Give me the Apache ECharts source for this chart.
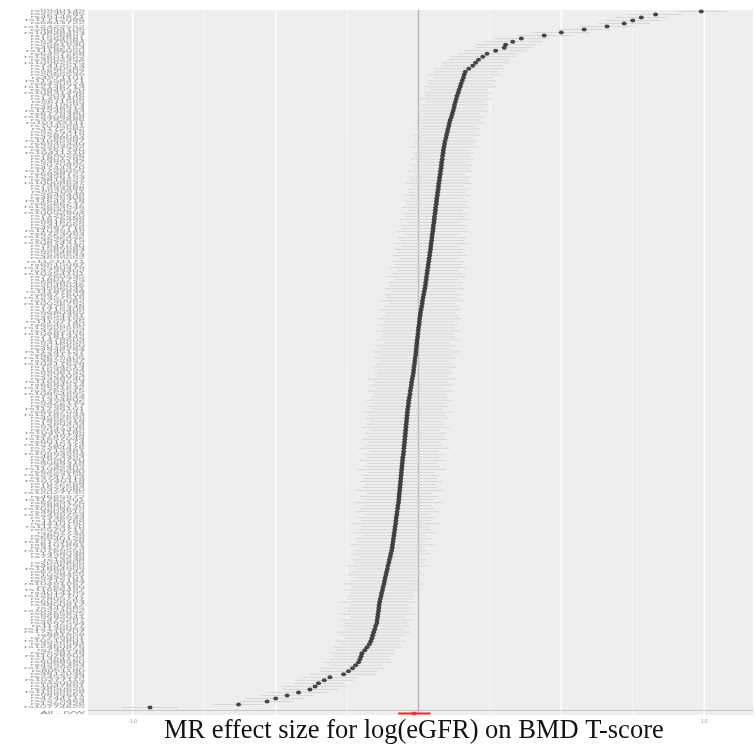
<!DOCTYPE html>
<html>
<head>
<meta charset="utf-8">
<script src="https://cdn.jsdelivr.net/npm/echarts@6/dist/echarts.min.js"></script>
<style>html,body{margin:0;padding:0;background:#fff}#chart{width:756px;height:751px}</style>
</head>
<body>
<div id="chart"></div>
<script>
// single SNP forest plot, SNPs ordered by effect (bottom = smallest)
const snps = `rs10774625 rs1260326 rs2279463 rs4744712 rs9895661 rs11959928 rs3850625 rs1047891 rs6420094 rs10277115
rs2453533 rs3812036 rs8091180 rs13329952 rs4293393 rs6088580 rs1394125 rs11078903 rs2928148 rs734553
rs12460876 rs3925584 rs10513801 rs7759001 rs881858 rs17216707 rs12136063 rs1145077 rs4667594 rs2472297
rs9682041 rs6465825 rs10224002 rs347685 rs3800817 rs6026593 rs7805747 rs12917707 rs4014195 rs11666497
rs163160 rs10491967 rs2712184 rs9332701 rs1028455 rs6795744 rs11864909 rs4506565 rs2049805 rs13538
rs7422339 rs1458038 rs10769559 rs3127573 rs8101881 rs12124078 rs9940128 rs2802729 rs267734 rs6570719
rs11123170 rs4410790 rs1106766 rs7336933 rs12499753 rs3803915 rs10208649 rs2880790 rs6659176 rs11762201
rs4665972 rs12027135 rs9374080 rs1825584 rs7072268 rs10740118 rs3741414 rs12563156 rs6459680 rs11082304
rs2732469 rs8068318 rs1990760 rs4873393 rs10993994 rs2712381 rs7284476 rs12740374 rs6012174 rs11657044
rs3749748 rs10491189 rs2043449 rs9357506 rs1260333 rs7896518 rs4592699 rs12185233 rs6557041 rs11736101
rs2298217 rs9472135 rs1394802 rs7212944 rs10854995 rs3762515 rs12921632 rs6684514 rs11603023 rs4338740
rs2921053 rs9908132 rs1533094 rs7554213 rs10417628 rs3822857 rs12679405 rs6431731 rs11245127 rs4848284
rs2075650 rs9318059 rs1478603 rs7181342 rs10881456 rs3765502 rs12509595 rs6545180 rs11107745 rs4954196
rs2254331 rs9680365 rs1715409 rs7475348 rs10026792 rs3750082 rs12357919 rs6677604 rs11187838 rs4596031
rs2049046 rs9858542 rs1801725 rs7760535 rs10254101 rs3733402 rs12580479 rs6915087 rs11211171 rs4699052
rs2535633 rs9994887 rs1589983 rs7941030 rs10874312 rs3925075 rs12252422 rs6723093 rs11039149 rs4987716
rs2315065 rs9816226 rs1676486 rs7129220 rs10052804 rs3800272 rs12653946 rs6566237 rs11643718 rs4829306
rs2642438 rs9520911 rs1933488 rs7395662 rs10008637 rs3813227 rs12356193 rs6838727 rs11726095 rs4744370
rs2070895 rs9399137 rs1801282 rs7690296 rs10411210 rs3761740 rs12203592 rs6945340 rs11065987 rs4788084
rs2287019 rs9275319 rs1172982 rs7045981 rs10133111 rs3782886 rs12408468 rs6779380 rs11249433 rs4846914
rs2519093 rs9611565 rs1497406 rs7903146 rs10831496 rs3849570 rs12146713 rs6420524 rs11558471 rs4971101
rs2065539 rs9825307 rs1260582 rs7412513 rs10962525 rs3902354 rs12601652 rs6497268 rs11186050 rs4962153
rs2581930 rs9379084 rs1564981 rs7556897 rs10838493 rs3094109 rs12422552 rs6843722 rs11712086 rs4914871
rs2239785 rs9940149`.trim().split(/\s+/);

const beta = [
  -0.940, -0.630, -0.530, -0.500, -0.460, -0.420, -0.380, -0.362, -0.350, -0.330, -0.310, -0.262, -0.245, -0.231, -0.220, -0.210, -0.205, -0.201, -0.198, -0.188, -0.180,
  -0.172, -0.167, -0.163, -0.160, -0.157, -0.153, -0.150, -0.146, -0.145, -0.143, -0.142, -0.140, -0.139, -0.138,
  -0.136, -0.134, -0.131, -0.129, -0.126, -0.124, -0.121, -0.119, -0.117, -0.114, -0.112, -0.109, -0.107, -0.104, -0.102, -0.099, -0.097, -0.094,
  -0.092, -0.091, -0.089, -0.088, -0.086, -0.085, -0.083, -0.082, -0.080, -0.079, -0.078, -0.076, -0.075, -0.073, -0.072, -0.070,
  -0.069, -0.068, -0.067, -0.066, -0.065, -0.064, -0.063, -0.062, -0.061, -0.060, -0.059, -0.058, -0.057, -0.056, -0.055, -0.053, -0.052,
  -0.051, -0.050, -0.049, -0.048, -0.047, -0.046, -0.045, -0.044, -0.043, -0.042, -0.041, -0.040, -0.039, -0.038, -0.036, -0.035,
  -0.034, -0.032, -0.030, -0.029, -0.027, -0.025, -0.024, -0.022, -0.020, -0.018,
  -0.017, -0.016, -0.014, -0.013, -0.012, -0.010, -0.009, -0.008, -0.007, -0.006, -0.005,
  -0.003, -0.002, -0.001, 0.000, 0.002, 0.003, 0.004, 0.006, 0.007,
  0.009, 0.011, 0.013, 0.014, 0.016, 0.018, 0.020, 0.022, 0.024,
  0.025, 0.027, 0.028, 0.030, 0.031, 0.033, 0.034, 0.036, 0.037, 0.039, 0.040, 0.042,
  0.043, 0.044, 0.046, 0.047, 0.048, 0.050, 0.051, 0.052, 0.054, 0.055, 0.056, 0.058, 0.059, 0.060, 0.062, 0.063,
  0.064, 0.066, 0.067, 0.069, 0.070, 0.071, 0.073, 0.074, 0.076, 0.077, 0.079, 0.080, 0.081, 0.083, 0.084, 0.086, 0.087,
  0.089, 0.091, 0.093, 0.096, 0.098, 0.101, 0.103, 0.106, 0.108, 0.111, 0.115,
  0.118, 0.121, 0.124, 0.126, 0.129, 0.132,
  0.135, 0.139, 0.142, 0.146,
  0.149, 0.153, 0.157, 0.160, 0.164, 0.176,
  0.190, 0.200, 0.210, 0.225, 0.240, 0.270, 0.300, 0.305, 0.330, 0.360, 0.440, 0.500, 0.580, 0.660, 0.720, 0.750, 0.780, 0.830, 0.990
];

const se = [
  0.050, 0.045, 0.048, 0.052, 0.047, 0.055, 0.050, 0.058, 0.046, 0.053, 0.049, 0.060, 0.051, 0.056, 0.047, 0.062, 0.054, 0.050, 0.058, 0.052, 0.061,
  0.055, 0.063, 0.049, 0.058, 0.066, 0.052, 0.060, 0.057, 0.064, 0.050, 0.068, 0.056, 0.061, 0.053, 0.070, 0.059, 0.062, 0.055, 0.067, 0.058,
  0.072, 0.060, 0.054, 0.069, 0.063, 0.058, 0.074, 0.061, 0.066, 0.056, 0.071, 0.064, 0.059, 0.076, 0.062, 0.068, 0.057, 0.073, 0.065, 0.060,
  0.078, 0.063, 0.069, 0.058, 0.075, 0.066, 0.061, 0.080, 0.064, 0.070, 0.059, 0.077, 0.067, 0.062, 0.074, 0.065, 0.071, 0.060, 0.079, 0.068,
  0.063, 0.076, 0.066, 0.072, 0.061, 0.081, 0.069, 0.064, 0.075, 0.067, 0.073, 0.062, 0.078, 0.070, 0.065, 0.074, 0.068, 0.080, 0.063, 0.071,
  0.066, 0.077, 0.069, 0.064, 0.075, 0.061, 0.072, 0.067, 0.079, 0.063, 0.070, 0.065, 0.076, 0.068, 0.062, 0.073, 0.066, 0.078, 0.064, 0.071,
  0.060, 0.074, 0.067, 0.063, 0.077, 0.065, 0.070, 0.061, 0.075, 0.068, 0.062, 0.072, 0.066, 0.059, 0.074, 0.064, 0.069, 0.058, 0.071, 0.063,
  0.067, 0.057, 0.070, 0.062, 0.055, 0.068, 0.060, 0.064, 0.053, 0.066, 0.058, 0.062, 0.052, 0.065, 0.057, 0.061, 0.050, 0.063, 0.055, 0.059,
  0.049, 0.062, 0.054, 0.058, 0.048, 0.061, 0.053, 0.057, 0.047, 0.060, 0.052, 0.056, 0.046, 0.059, 0.051, 0.055, 0.045, 0.058, 0.050, 0.054,
  0.047, 0.057, 0.050, 0.054, 0.046, 0.059, 0.052, 0.056, 0.048, 0.061, 0.053, 0.057, 0.049, 0.062, 0.054, 0.058, 0.050, 0.063, 0.055, 0.059,
  0.051, 0.064, 0.056, 0.060, 0.052, 0.065, 0.057, 0.061, 0.053, 0.066, 0.058, 0.062, 0.054, 0.060, 0.056, 0.058, 0.052, 0.055, 0.050, 0.054,
  0.052, 0.050, 0.048, 0.051, 0.047, 0.049, 0.046, 0.048, 0.045, 0.050, 0.046
];

// combined estimate row (red)
const allLabel = 'All - IVW';
const allBeta = -0.015;
const allSe = 0.029;

const xMin = -1.157, xMax = 1.171;
const majorGrid = [-1, -0.5, 0.5, 1];
const minorGrid = [-0.75, -0.25, 0.25, 0.75];
const xLabelTicks = [-1, 1];
const xTitle = 'MR effect size for log(eGFR) on BMD T-score';

const yCats = [allLabel, ''].concat(snps);

const chart = echarts.init(document.getElementById('chart'));

function vline(color, width, dash) {
  return function (params, api) {
    const cs = params.coordSys;
    const x = api.coord([api.value(0), 0])[0];
    return {type: 'line', shape: {x1: x, y1: cs.y, x2: x, y2: cs.y + cs.height},
      style: {stroke: color, lineWidth: width, lineDash: dash || null}};
  };
}
function hbar(color, width) {
  return function (params, api) {
    const a = api.coord([api.value(0), api.value(2)]);
    const b = api.coord([api.value(1), api.value(2)]);
    return {type: 'line', shape: {x1: a[0], y1: a[1], x2: b[0], y2: b[1]}, style: {stroke: color, lineWidth: width}};
  };
}

chart.setOption({
  animation: false,
  grid: {left: 88, right: 0, top: 10, bottom: 36, show: true, backgroundColor: '#eeeeee', borderWidth: 0},
  xAxis: {
    type: 'value', min: xMin, max: xMax,
    axisLine: {show: false}, axisTick: {show: false}, splitLine: {show: false},
    axisLabel: {
      fontSize: 5, color: '#999', margin: 4,
      formatter: v => xLabelTicks.some(t => Math.abs(t - v) < 1e-6) ? v.toFixed(1) : ''
    }
  },
  yAxis: {
    type: 'category', data: yCats,
    axisLine: {show: false}, axisTick: {show: false}, axisLabel: {show: false}, splitLine: {show: false}
  },
  graphic: [{
    type: 'text', left: 164, top: 718,
    style: {text: xTitle, fontFamily: 'Liberation Serif', fontSize: 26.5, fill: '#111'}
  }],
  series: [
    {type: 'custom', z: 1, silent: true, renderItem: vline('#ffffff', 1.5), data: majorGrid.map(v => [v])},
    {type: 'custom', z: 1, silent: true, renderItem: vline('#f9f9f9', 0.9), data: minorGrid.map(v => [v])},
    {type: 'custom', z: 2, silent: true, renderItem: vline('#b4b4b4', 1.4), data: [[0]]},
    {
      type: 'custom', z: 3, silent: true, renderItem: hbar('#d6d6d6', 1),
      data: beta.map((b, i) => [b - 1.96 * se[i], b + 1.96 * se[i], i + 2])
    },
    {
      type: 'scatter', z: 4, silent: true, symbolSize: [5, 4],
      itemStyle: {color: '#1e1e1e'},
      data: beta.map((b, i) => [b, i + 2])
    },
    {
      type: 'custom', z: 5, silent: true,
      renderItem: function (params, api) {
        const cs = params.coordSys;
        const y = api.coord([0, 1])[1];
        return {type: 'line', shape: {x1: cs.x, y1: y, x2: cs.x + cs.width, y2: y}, style: {stroke: '#c4c4c4', lineWidth: 1}};
      },
      data: [[0]]
    },
    {
      type: 'custom', z: 6, silent: true, renderItem: hbar('#ff2020', 2),
      data: [[allBeta - 1.96 * allSe, allBeta + 1.96 * allSe, 0]]
    },
    {
      type: 'scatter', z: 7, silent: true, symbolSize: [5, 4],
      itemStyle: {color: '#ff2020'}, data: [[allBeta, 0]]
    },
    {
      // SNP labels, drawn squeezed like the source figure
      type: 'custom', z: 8, silent: true,
      renderItem: function (params, api) {
        const p = api.coord([xMin, api.value(1)]);
        return {
          type: 'text', x: p[0] - 3, y: p[1], scaleX: 3.4,
          style: {text: yCats[params.dataIndex], align: 'right', verticalAlign: 'middle',
            fontSize: 3.4, fontFamily: 'Liberation Sans', fill: '#8a8a8a'}
        };
      },
      data: yCats.map((c, i) => [xMin, i])
    }
  ]
});
</script>
</body>
</html>
